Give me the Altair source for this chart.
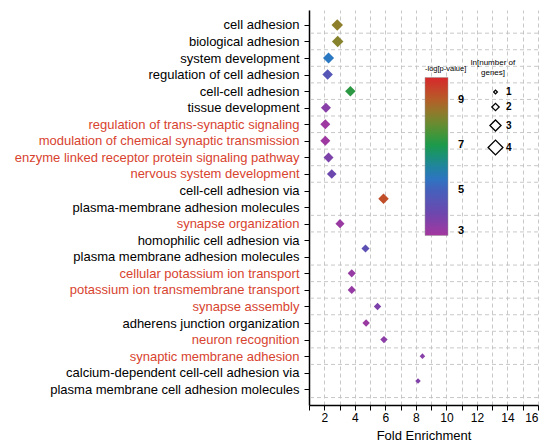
import json
import altair as alt
import pandas as pd

# ---- data ----
term_lines = [
    ["cell adhesion"],
    ["biological adhesion"],
    ["system development"],
    ["regulation of cell adhesion"],
    ["cell-cell adhesion"],
    ["tissue development"],
    ["regulation of trans-synaptic signaling"],
    ["modulation of chemical synaptic transmission"],
    ["enzyme linked receptor protein signaling pathway"],
    ["nervous system development"],
    ["cell-cell adhesion via", "plasma-membrane adhesion molecules"],
    ["synapse organization"],
    ["homophilic cell adhesion via", "plasma membrane adhesion molecules"],
    ["cellular potassium ion transport"],
    ["potassium ion transmembrane transport"],
    ["synapse assembly"],
    ["adherens junction organization"],
    ["neuron recognition"],
    ["synaptic membrane adhesion"],
    ["calcium-dependent cell-cell adhesion via", "plasma membrane cell adhesion molecules"],
]
neural_term = [0, 0, 0, 0, 0, 0, 1, 1, 1, 1, 0, 1, 0, 1, 1, 1, 0, 1, 1, 0]
fold_enrichment = [2.85, 2.88, 2.28, 2.22, 3.71, 2.11, 2.07, 2.07, 2.28, 2.49,
                   5.88, 3.03, 4.70, 3.80, 3.80, 5.49, 4.74, 5.91, 8.43, 8.14]
neg_log_p = [8.4, 8.3, 5.6, 4.6, 7.2, 3.5, 3.1, 3.1, 3.7, 4.0,
             9.3, 3.2, 4.4, 3.25, 3.25, 3.7, 3.2, 3.45, 3.5, 3.65]
ln_genes = [3.1, 3.1, 3.0, 2.85, 2.85, 2.7, 2.7, 2.7, 2.7, 2.6,
            2.85, 2.45, 2.2, 2.2, 2.2, 2.0, 2.0, 2.0, 1.5, 1.5]

x_ticks = list(range(1, 17))
color_legend_values = [3, 5, 7, 9]
size_legend_values = [1, 2, 3, 4]
color_stops = [3, 4, 5, 5.6, 6.3, 7, 7.6, 8.3, 9, 10]
color_range = ["#a4379f", "#6c47ae", "#4560bb", "#2a78c2", "#1a8c8a",
               "#1c9a4c", "#4c9435", "#86832c", "#b45e28", "#d7282b"]

RED = "#d8432f"
FONT = "Liberation Sans"

# ---- build tables ----
lines, red_lines, rows, bounds = [], [], [], []
i = 0
for k, tl in enumerate(term_lines):
    start = i
    for ln in tl:
        lines.append(ln)
        if neural_term[k]:
            red_lines.append(i)
        i += 1
    rows.append({
        "term": " ".join(tl),
        "pos": start + (len(tl) - 1) / 2,
        "fold": fold_enrichment[k],
        "nlp": neg_log_p[k],
        "lng": ln_genes[k],
    })
    bounds.append({"pos": i - 0.5})

df = pd.DataFrame(rows)
grid_df = pd.DataFrame(bounds)

y_scale = alt.Scale(domain=[-0.9, 22.95], reverse=True, nice=False, zero=False)
y_axis = alt.Axis(
    values=list(range(len(lines))),
    labelExpr=f"{json.dumps(lines)}[datum.value]",
    labelColor={
        "condition": {
            "test": f"indexof({json.dumps(red_lines)}, datum.value) >= 0",
            "value": RED,
        },
        "value": "black",
    },
    grid=False, tickSize=5, tickColor="black", domainColor="black",
    domainWidth=1.5, labelFontSize=13, labelPadding=5, labelLimit=400,
    title=None,
)
y_enc = alt.Y("pos:Q", scale=y_scale, axis=y_axis)

hgrid = alt.Chart(grid_df).mark_rule(
    color="#c2c2c2", strokeDash=[4, 3], strokeWidth=0.9
).encode(y=y_enc)

points = alt.Chart(df).mark_point(
    shape="diamond", filled=True, opacity=1
).encode(
    x=alt.X(
        "fold:Q",
        scale=alt.Scale(domain=[1, 16], nice=False, zero=False),
        axis=alt.Axis(
            values=x_ticks,
            labelExpr="datum.value % 2 == 0 ? datum.label : ''",
            grid=True, gridDash=[4, 3], gridColor="#c2c2c2", gridWidth=0.9,
            tickSize=5, tickColor="black", domainColor="black", domainWidth=1.5,
            labelFontSize=12, labelColor="black", labelPadding=2,
            title="Fold Enrichment", titleFontSize=13, titleFontWeight="normal",
            titleColor="black", titlePadding=6,
        ),
    ),
    y=y_enc,
    color=alt.Color(
        "nlp:Q",
        scale=alt.Scale(domain=color_stops, range=color_range, interpolate="rgb"),
        legend=alt.Legend(
            title="-log[p-value]", orient="none", legendX=116, legendY=55,
            direction="vertical", gradientLength=158, gradientThickness=23,
            values=color_legend_values, labelFontWeight="bold", labelFontSize=11,
            labelColor="black", titleFontSize=7.5, titleFontWeight="normal",
            titleColor="black", gradientStrokeColor="#999", gradientStrokeWidth=0.5,
            labelOffset=10, titlePadding=5, offset=0,
        ),
    ),
    size=alt.Size(
        "lng:Q",
        scale=alt.Scale(type="pow", exponent=2, domain=[0, 4], range=[0, 219]),
        legend=alt.Legend(
            title=["ln[number of", "genes]"], orient="none", legendX=162, legendY=49,
            values=size_legend_values, symbolType="diamond",
            symbolFillColor="white", symbolStrokeColor="black", symbolStrokeWidth=1.3,
            labelFontWeight="bold", labelFontSize=10, labelColor="black",
            titleFontSize=8, titleFontWeight="normal", titleColor="black",
            titleAlign="center", titleAnchor="middle", rowPadding=3,
            symbolOffset=12, labelOffset=2, titlePadding=10,
        ),
    ),
)

chart = alt.layer(hgrid, points).properties(
    width=229, height=395,
    autosize=alt.AutoSizeParams(type="none"),
    padding={"left": 309, "top": 10, "right": 8, "bottom": 40},
).configure(font=FONT).configure_view(stroke=None)

chart.save("out.html", embed_options={"renderer": "svg", "actions": False})
